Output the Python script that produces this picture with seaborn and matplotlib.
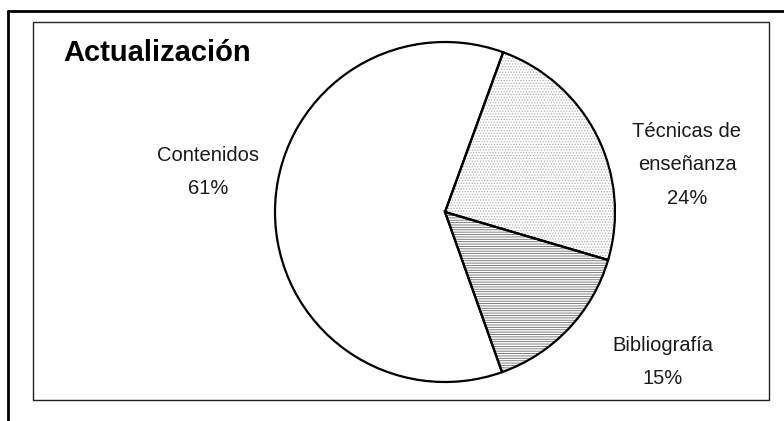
import matplotlib
matplotlib.use("Agg")
import matplotlib.pyplot as plt
import seaborn as sns
from matplotlib.lines import Line2D
from matplotlib.patches import Rectangle

sns.set_theme(style="white")
plt.rcParams["font.family"] = ["Liberation Sans", "DejaVu Sans"]
plt.rcParams["hatch.linewidth"] = 0.6

title = "Actualización"
categories = ["Técnicas de\nenseñanza", "Bibliografía", "Contenidos"]
values = [24, 15, 61]
hatches = ["......", "-------", ""]
hatch_colors = ["#b0b0b0", "#6a6a6a", "white"]

W, H = 784, 421
fig = plt.figure(figsize=(W / 100, H / 100), dpi=100)
fig.patch.set_facecolor("white")

# pie axes: center (445,212) px, radius 170 px
cx, cy, r = 445, 212, 170
ax = fig.add_axes([(cx - r) / W, (H - cy - r) / H, 2 * r / W, 2 * r / H])

wedges, _ = ax.pie(values, startangle=70, counterclock=False,
                   colors=["white"] * 3, radius=1,
                   wedgeprops=dict(linewidth=0))
for w, h, hc in zip(wedges, hatches, hatch_colors):
    w.set_edgecolor(hc)
    w.set_linewidth(0)
    w.set_hatch(h)
# black outlines on top
w2, _ = ax.pie(values, startangle=70, counterclock=False, radius=1,
               wedgeprops=dict(fill=False, edgecolor="black", linewidth=1.6))
ax.set_xlim(-1, 1)
ax.set_ylim(-1, 1)
ax.set_aspect("equal")
ax.axis("off")

def px2data(px, py):
    return (px - cx) / r, (cy - py) / r

label_pos = [(687, 165), (663, 362), (208, 172)]
for cat, val, (px, py) in zip(categories, values, label_pos):
    x, y = px2data(px, py)
    ax.text(x, y, f"{cat}\n{val}%", ha="center", va="center", fontsize=14.5,
            linespacing=1.95, color="#1a1a1a", clip_on=False)

# title
fig.text(63 / W, 1 - 61 / H, title, ha="left", va="baseline",
         fontsize=21, fontweight="bold", color="black")

# inner frame
fig.add_artist(Rectangle((33 / W, 1 - 400 / H), (769 - 33) / W, (400 - 22) / H,
                         transform=fig.transFigure, fill=False,
                         edgecolor="#222222", linewidth=1.0))
# outer frame (top and left)
fig.add_artist(Line2D([8 / W, 1], [1 - 11 / H, 1 - 11 / H],
                      transform=fig.transFigure, color="black", linewidth=2))
fig.add_artist(Line2D([8 / W, 8 / W], [0, 1 - 11 / H],
                      transform=fig.transFigure, color="black", linewidth=2))

fig.savefig("out.png", dpi=100)
